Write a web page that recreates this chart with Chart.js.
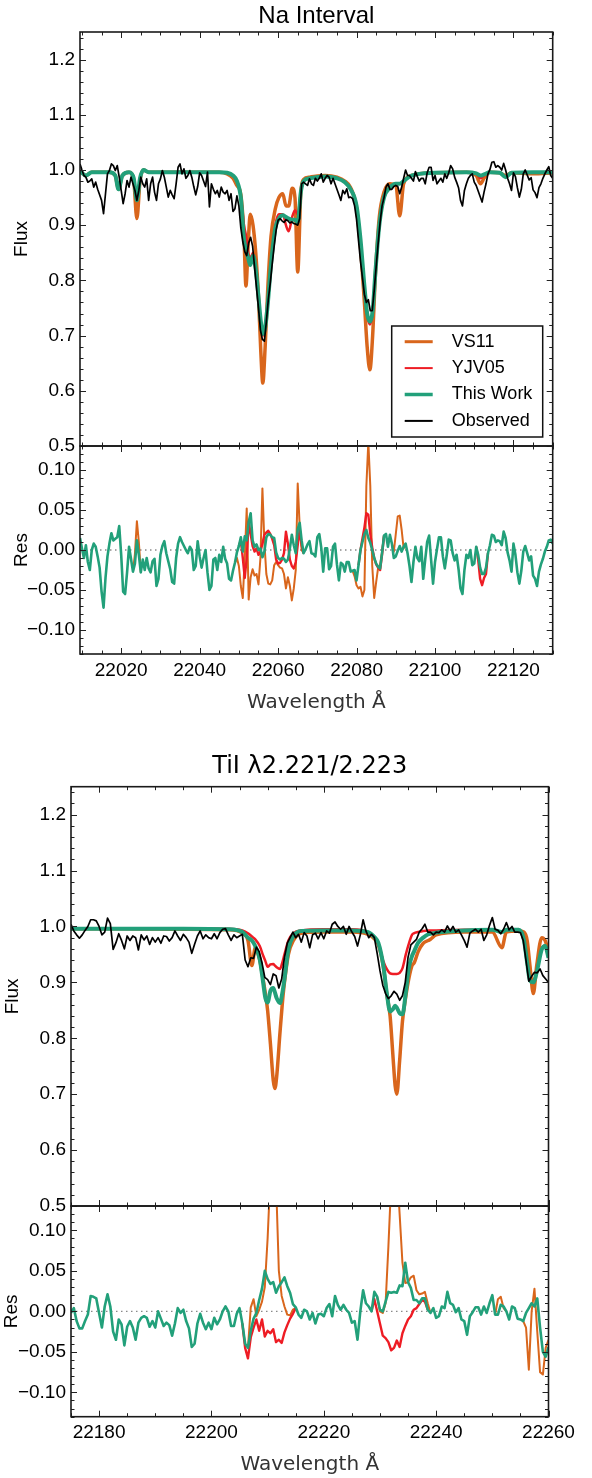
<!DOCTYPE html>
<html>
<head>
<meta charset="utf-8">
<title>Na interval and TiI lines</title>
<script src="https://cdn.jsdelivr.net/npm/chart.js@4.4.1/dist/chart.umd.min.js"></script>
<style>
  body { margin: 0; background: #fff; }
  #page { position: relative; width: 592px; height: 1478px; }
  canvas { position: absolute; left: 0; }
</style>
</head>
<body>
<div id="page">
  <canvas id="naFlux" width="592" height="460" style="top:0px"></canvas>
  <canvas id="naRes" width="592" height="290" style="top:440px"></canvas>
  <canvas id="tiFlux" width="592" height="480" style="top:740px"></canvas>
  <canvas id="tiRes" width="592" height="278" style="top:1200px"></canvas>
</div>
<script>
// spectra are sampled every 0.5 A
const sampleStep = 0.5;

// tick labels
const fluxTicks = [0.5, 0.6, 0.7, 0.8, 0.9, 1.0, 1.1, 1.2];
const resTicks = [-0.10, -0.05, 0.00, 0.05, 0.10];
const naWaveTicks = [22020, 22040, 22060, 22080, 22100, 22120];
const tiWaveTicks = [22180, 22200, 22220, 22240, 22260];
const legendOrder = ['VS11', 'YJV05', 'This Work', 'Observed'];

// ---- Na interval ----
const naObsStart = 22009.5;
const naObs = [
  1.011, 1.000, 0.990, 0.987, 0.978, 0.980, 0.984, 0.969, 0.978, 0.965,
  0.955, 0.945, 0.921, 0.957, 0.993, 0.999, 1.011, 1.008, 0.999, 1.008,
  0.987, 0.963, 0.939, 0.957, 0.981, 0.969, 0.987, 0.975, 0.963, 0.945,
  0.963, 0.987, 0.975, 0.969, 0.984, 0.945, 0.975, 0.987, 0.960, 0.945,
  0.975, 0.984, 0.999, 0.987, 0.969, 0.951, 0.963, 0.955, 0.948, 0.975,
  1.005, 1.011, 0.993, 1.002, 0.985, 0.990, 0.999, 0.987, 0.970, 0.955,
  0.970, 0.995, 0.990, 0.980, 0.970, 0.996, 0.933, 0.975, 0.965, 0.957,
  0.963, 0.951, 0.969, 0.960, 0.957, 0.963, 0.945, 0.957, 0.925, 0.930,
  0.953, 0.935, 0.895, 0.870, 0.852, 0.845, 0.868, 0.878, 0.862, 0.824,
  0.786, 0.750, 0.710, 0.693, 0.690, 0.725, 0.765, 0.795, 0.830, 0.862,
  0.891, 0.909, 0.912, 0.908, 0.905, 0.910, 0.908, 0.904, 0.906, 0.903,
  0.902, 0.900, 0.912, 0.975, 0.978, 0.975, 0.972, 0.984, 0.975, 0.972,
  0.985, 0.980, 0.985, 0.993, 0.978, 0.985, 0.990, 0.987, 0.975, 0.985,
  0.975, 0.965, 0.955, 0.945, 0.963, 0.957, 0.966, 0.950, 0.951, 0.948,
  0.935, 0.910, 0.872, 0.835, 0.805, 0.775, 0.760, 0.765, 0.745, 0.745,
  0.782, 0.825, 0.867, 0.905, 0.935, 0.950, 0.969, 0.975, 0.965, 0.965,
  0.970, 0.972, 0.970, 0.957, 0.969, 0.985, 1.000, 0.990, 0.990, 0.985,
  0.980, 0.997, 0.988, 0.980, 0.985, 0.985, 0.975, 0.995, 1.005, 1.005,
  0.981, 0.990, 0.975, 0.980, 0.985, 0.978, 0.993, 0.985, 0.995, 1.008,
  1.002, 0.987, 0.978, 0.968, 0.945, 0.935, 0.963, 0.975, 0.985, 0.990,
  0.993, 0.978, 0.972, 0.962, 0.952, 0.942, 0.960, 0.975, 0.993, 1.001,
  1.014, 1.015, 1.005, 1.008, 1.005, 1.000, 1.012, 1.000, 0.985, 0.975,
  0.963, 0.995, 0.988, 0.968, 0.951, 0.965, 0.993, 1.000, 0.991, 0.982,
  0.986, 0.964, 0.959, 0.950, 0.968, 0.975, 0.985, 0.993, 1.000, 1.006,
  0.990, 0.985
];
const naResTW = [
  0.015, 0.002, -0.010, 0.006, -0.015, -0.025, 0.000, 0.008, 0.004, -0.008,
  -0.022, -0.052, -0.072, -0.035, -0.008, 0.008, 0.021, 0.012, 0.014, 0.016,
  0.030, -0.006, -0.052, -0.055, -0.028, 0.004, -0.011, -0.027, -0.017, 0.012,
  -0.006, -0.028, -0.012, -0.025, -0.010, -0.023, -0.028, -0.014, -0.011, -0.045,
  -0.036, -0.006, 0.005, 0.011, -0.004, -0.014, -0.024, -0.040, -0.042, -0.010,
  0.008, 0.016, 0.010, 0.005, 0.000, -0.004, 0.004, 0.000, -0.025, -0.020,
  0.011, -0.008, -0.022, -0.010, 0.000, -0.028, -0.050, -0.045, -0.012, -0.010,
  -0.025, -0.006, -0.015, 0.004, -0.011, -0.017, -0.036, -0.038, -0.026, -0.016,
  -0.003, 0.005, 0.016, -0.002, 0.017, 0.012, 0.035, 0.046, 0.012, 0.004,
  0.007, 0.000, 0.002, -0.009, -0.002, 0.016, 0.020, 0.019, 0.016, 0.015,
  -0.003, -0.010, -0.012, -0.010, -0.011, -0.015, -0.012, 0.002, 0.019, 0.006,
  -0.004, 0.026, 0.034, 0.012, -0.004, 0.001, 0.007, 0.011, -0.004, -0.005,
  -0.008, 0.016, 0.020, 0.003, -0.027, 0.002, 0.002, -0.024, -0.020, 0.004,
  0.008, -0.018, -0.038, -0.016, -0.018, -0.027, -0.015, -0.015, -0.027, -0.026,
  -0.025, -0.038, -0.019, 0.000, 0.010, 0.020, 0.025, 0.015, 0.009, 0.000,
  -0.010, -0.017, -0.021, -0.023, -0.004, 0.018, 0.020, 0.004, 0.019, 0.008,
  -0.010, -0.008, -0.001, 0.005, -0.002, 0.004, 0.008, -0.004, -0.020, -0.040,
  -0.015, 0.004, -0.010, -0.014, 0.004, -0.036, -0.012, 0.010, 0.018, -0.012,
  -0.042, -0.015, 0.001, 0.016, 0.016, -0.008, -0.023, -0.006, 0.013, 0.012,
  -0.004, -0.013, -0.006, -0.024, -0.048, -0.055, -0.025, -0.006, -0.010, 0.000,
  -0.019, -0.017, 0.004, -0.006, -0.022, -0.030, -0.030, -0.022, -0.004, 0.006,
  0.019, 0.018, 0.010, 0.012, 0.011, 0.006, 0.023, 0.015, -0.003, -0.013,
  -0.027, 0.008, -0.006, -0.028, -0.042, -0.026, -0.002, 0.005, -0.004, -0.013,
  -0.008, -0.032, -0.036, -0.045, -0.027, -0.018, -0.011, -0.002, 0.004, 0.012,
  0.013, 0.008
];
// model spectra, read at these wavelengths
const naNodes = [
  22009.5, 22011, 22012.5, 22017, 22018.5, 22019.3, 22020.3, 22022, 22023.2, 22024,
  22024.8, 22025.7, 22027, 22035, 22045, 22047, 22048.5, 22049.5, 22050.5, 22051.3,
  22051.8, 22052.4, 22052.9, 22053.6, 22054.3, 22055, 22055.6, 22056.1, 22056.7, 22057.4,
  22058.2, 22059.3, 22060.2, 22061.2, 22062, 22062.7, 22063.6, 22064.3, 22065, 22065.8,
  22066.5, 22068, 22072, 22075, 22077, 22078.5, 22080, 22081, 22082, 22082.7,
  22083.4, 22084.1, 22084.8, 22085.8, 22087, 22088.5, 22090, 22091, 22092, 22094,
  22100, 22108, 22110.5, 22111.6, 22112.5, 22114, 22116.5, 22118, 22119.5, 22125,
  22130
];
const naVS11 = [
  0.998, 0.990, 0.996, 0.996, 0.990, 0.965, 0.990, 0.996, 0.980, 0.912,
  0.980, 1.000, 0.996, 0.996, 0.996, 0.993, 0.985, 0.972, 0.955, 0.880,
  0.790, 0.870, 0.920, 0.900, 0.850, 0.770, 0.670, 0.614, 0.680, 0.790,
  0.880, 0.930, 0.950, 0.957, 0.935, 0.935, 0.967, 0.950, 0.815, 0.960,
  0.983, 0.987, 0.990, 0.987, 0.980, 0.968, 0.930, 0.860, 0.760, 0.680,
  0.638, 0.700, 0.810, 0.915, 0.960, 0.975, 0.972, 0.917, 0.975, 0.990,
  0.995, 0.996, 0.990, 0.975, 0.985, 0.996, 0.995, 0.990, 0.995, 0.993,
  0.995
];
const naYJV05 = [
  0.998, 0.990, 0.996, 0.996, 0.990, 0.965, 0.990, 0.996, 0.985, 0.945,
  0.985, 1.000, 0.996, 0.996, 0.996, 0.995, 0.990, 0.980, 0.952, 0.900,
  0.882, 0.850, 0.840, 0.850, 0.820, 0.770, 0.722, 0.700, 0.712, 0.760,
  0.830, 0.900, 0.920, 0.920, 0.900, 0.889, 0.915, 0.927, 0.920, 0.960,
  0.980, 0.985, 0.988, 0.985, 0.978, 0.965, 0.935, 0.873, 0.787, 0.737,
  0.720, 0.742, 0.813, 0.900, 0.950, 0.968, 0.975, 0.975, 0.980, 0.990,
  0.995, 0.996, 0.994, 0.985, 0.990, 0.996, 0.995, 0.987, 0.995, 0.996,
  0.996
];
const naTW = [
  0.998, 0.990, 0.996, 0.996, 0.990, 0.965, 0.990, 0.996, 0.985, 0.945,
  0.985, 1.000, 0.996, 0.996, 0.996, 0.995, 0.990, 0.980, 0.950, 0.875,
  0.855, 0.840, 0.828, 0.845, 0.820, 0.770, 0.725, 0.703, 0.715, 0.760,
  0.830, 0.895, 0.912, 0.918, 0.915, 0.912, 0.910, 0.910, 0.905, 0.960,
  0.980, 0.985, 0.988, 0.985, 0.978, 0.965, 0.935, 0.875, 0.790, 0.740,
  0.725, 0.745, 0.815, 0.900, 0.950, 0.968, 0.975, 0.975, 0.980, 0.990,
  0.995, 0.996, 0.994, 0.990, 0.992, 0.996, 0.995, 0.987, 0.995, 0.996,
  0.996
];
// residuals of the other two fits, where they leave the This Work curve
const naResVS11Start = [22023.0, 22049.0, 22079.0, 22089.0];
const naResVS11 = [
  [-0.027, -0.005, 0.036, 0.010, -0.028],
  [-0.016, -0.010, -0.020, -0.045, -0.060, -0.010, 0.052, -0.062, -0.034, -0.024,
   -0.032, -0.030, -0.043, -0.010, 0.077, 0.010, -0.030, -0.042, -0.043, -0.038,
   -0.019, -0.015, -0.019, -0.022, -0.023, -0.030, -0.048, -0.034, -0.045, -0.063,
   -0.048, -0.025, 0.083, 0.030, 0.000, -0.004],
  [-0.026, -0.033, -0.044, -0.048, -0.046, -0.058, -0.050, 0.080, 0.135, 0.080,
   -0.020, -0.060, -0.040, -0.022, -0.019, -0.002, 0.018],
  [0.008, -0.002, 0.020, 0.042, 0.043, 0.025, 0.002, 0.008]
];
const naResYJV05Start = [22050.0, 22080.5, 22110.5];
const naResYJV05 = [
  [0.005, 0.012, -0.010, -0.035, -0.010, 0.035, 0.020, 0.005, -0.002, 0.002,
   -0.006, -0.002, 0.008, 0.019, 0.022, 0.024, 0.020, 0.014, 0.006, -0.012,
   -0.017, -0.016, -0.012, -0.004, 0.023, 0.008, -0.012, -0.020, -0.023, -0.015,
   0.006, 0.025, 0.006, -0.004],
  [-0.019, 0.000, 0.014, 0.028, 0.046, 0.044, 0.020, 0.003, -0.010, -0.018,
   -0.022, -0.025, -0.006, 0.018],
  [0.004, -0.012, -0.036, -0.044, -0.035, -0.030, -0.004]
];

// ---- TiI 2.221/2.223 ----
const tiObsStart = 22175;
const tiObs = [
  1.004, 0.992, 0.985, 0.979, 0.985, 0.993, 1.000, 1.012, 1.012, 1.010,
  1.000, 0.985, 0.990, 1.015, 1.005, 0.959, 0.971, 0.987, 0.975, 0.960,
  0.983, 0.975, 0.983, 0.980, 0.958, 0.985, 0.976, 0.983, 0.968, 0.980,
  0.972, 0.980, 0.970, 0.983, 0.982, 0.974, 0.980, 0.992, 0.983, 0.975,
  0.986, 0.980, 0.972, 0.952, 0.968, 0.983, 0.992, 0.978, 0.985, 0.980,
  0.978, 0.987, 0.978, 0.989, 0.995, 0.996, 0.985, 0.975, 0.985, 0.980,
  0.983, 0.986, 0.940, 0.928, 0.944, 0.943, 0.963, 0.955, 0.935, 0.909,
  0.905, 0.896, 0.915, 0.912, 0.890, 0.906, 0.945, 0.970, 0.980, 0.990,
  0.980, 0.986, 0.972, 0.989, 0.983, 0.962, 0.985, 0.988, 0.978, 0.989,
  0.978, 0.992, 0.988, 1.004, 1.008, 1.000, 0.995, 1.000, 0.986, 1.000,
  0.990, 0.982, 0.965, 0.985, 1.012, 0.992, 0.980, 0.986, 0.980, 0.952,
  0.921, 0.895, 0.880, 0.871, 0.876, 0.884, 0.879, 0.868, 0.876, 0.900,
  0.945, 0.967, 0.972, 0.977, 0.990, 0.996, 1.004, 0.990, 0.990, 0.985,
  0.990, 0.989, 0.994, 0.990, 1.001, 0.992, 1.000, 0.990, 0.994, 0.985,
  0.975, 0.963, 0.988, 0.992, 0.995, 0.990, 0.995, 0.975, 0.985, 1.002,
  1.016, 0.995, 0.993, 0.987, 0.995, 1.007, 0.994, 1.000, 0.990, 0.990,
  0.989, 0.975, 0.939, 0.902, 0.911, 0.918, 0.917, 0.924, 0.912, 0.906,
  0.900
];
const tiResTW = [
  -0.002, 0.004, -0.012, -0.021, -0.021, -0.012, -0.004, 0.019, 0.018, 0.016,
  -0.002, -0.020, 0.006, 0.021, 0.006, -0.025, -0.035, -0.010, -0.016, -0.042,
  -0.019, -0.012, -0.020, -0.035, -0.014, -0.008, -0.006, -0.008, -0.019, -0.012,
  -0.020, 0.000, -0.009, -0.018, -0.014, -0.017, -0.030, -0.015, 0.004, -0.002,
  0.002, -0.012, -0.021, -0.044, -0.040, -0.015, -0.003, -0.014, -0.022, -0.014,
  -0.022, -0.008, -0.016, -0.010, 0.000, 0.006, 0.000, -0.018, -0.018, -0.003,
  0.004, -0.015, -0.040, -0.045, -0.024, -0.009, -0.002, 0.014, 0.028, 0.050,
  0.040, 0.034, 0.036, 0.023, 0.031, 0.036, 0.042, 0.031, 0.023, 0.009,
  0.005, -0.004, -0.008, 0.002, 0.000, -0.010, -0.002, -0.015, -0.004, -0.003,
  -0.006, 0.004, 0.009, -0.006, 0.019, 0.008, 0.002, 0.008, 0.002, -0.002,
  -0.014, -0.012, -0.035, 0.000, 0.026, 0.010, 0.006, 0.000, 0.024, 0.018,
  0.002, 0.000, 0.012, 0.024, 0.023, 0.024, 0.023, 0.032, 0.031, 0.060,
  0.036, 0.029, 0.014, 0.014, 0.010, 0.016, 0.016, 0.002, -0.002, 0.004,
  -0.008, -0.006, 0.006, 0.004, 0.024, 0.010, 0.008, -0.001, 0.004, -0.010,
  -0.012, -0.029, -0.006, -0.001, 0.005, 0.005, -0.004, 0.006, -0.002, 0.010,
  0.020, -0.004, -0.004, 0.008, 0.006, 0.000, -0.010, 0.006, 0.004, -0.009,
  -0.010, -0.012, -0.002, 0.004, 0.010, 0.006, 0.016, -0.020, -0.050, -0.056,
  -0.044
];
const tiNodes = [
  22175, 22185, 22195, 22203, 22205.5, 22206.5, 22207.2, 22207.8, 22208.6, 22209.2,
  22209.6, 22210.0, 22210.5, 22211.0, 22211.3, 22211.6, 22212.2, 22212.6, 22213.0, 22213.7,
  22214.6, 22216, 22220, 22225, 22227.9, 22229.1, 22229.7, 22230.6, 22231.2, 22231.8,
  22232.3, 22232.7, 22233.0, 22233.5, 22234.0, 22234.6, 22235.1, 22235.7, 22236.1, 22236.8,
  22237.7, 22238.6, 22239.0, 22240, 22245, 22250, 22251.7, 22252.5, 22254.7, 22255.6,
  22256.2, 22256.7, 22257.3, 22257.9, 22258.8, 22259.4, 22260
];
const tiVS11 = [
  0.996, 0.996, 0.995, 0.994, 0.988, 0.975, 0.930, 0.962, 0.940, 0.905,
  0.880, 0.850, 0.790, 0.725, 0.710, 0.730, 0.810, 0.860, 0.900, 0.950,
  0.975, 0.988, 0.990, 0.990, 0.986, 0.977, 0.968, 0.928, 0.880, 0.840,
  0.770, 0.715, 0.700, 0.760, 0.830, 0.875, 0.905, 0.930, 0.935, 0.955,
  0.970, 0.975, 0.977, 0.985, 0.990, 0.990, 0.962, 0.990, 0.992, 0.990,
  0.975, 0.930, 0.880, 0.930, 0.980, 0.975, 0.955
];
const tiYJV05 = [
  0.996, 0.996, 0.996, 0.996, 0.993, 0.988, 0.982, 0.977, 0.965, 0.948,
  0.938, 0.928, 0.932, 0.933, 0.930, 0.927, 0.924, 0.935, 0.950, 0.975,
  0.988, 0.993, 0.995, 0.995, 0.990, 0.980, 0.968, 0.938, 0.924, 0.916,
  0.915, 0.915, 0.915, 0.917, 0.925, 0.950, 0.968, 0.985, 0.988, 0.990,
  0.992, 0.993, 0.993, 0.993, 0.994, 0.994, 0.990, 0.994, 0.994, 0.978,
  0.938, 0.906, 0.902, 0.920, 0.960, 0.966, 0.950
];
const tiTW = [
  0.996, 0.996, 0.996, 0.995, 0.990, 0.980, 0.975, 0.965, 0.941, 0.900,
  0.872, 0.864, 0.885, 0.890, 0.882, 0.872, 0.863, 0.880, 0.906, 0.959,
  0.983, 0.992, 0.993, 0.993, 0.990, 0.980, 0.971, 0.930, 0.882, 0.848,
  0.852, 0.858, 0.855, 0.845, 0.843, 0.882, 0.924, 0.947, 0.956, 0.971,
  0.980, 0.986, 0.987, 0.989, 0.993, 0.994, 0.990, 0.994, 0.994, 0.977,
  0.935, 0.903, 0.900, 0.918, 0.959, 0.965, 0.944
];
const tiResVS11Start = [22206.5, 22229.5, 22250.5, 22255.5];
const tiResVS11 = [
  [-0.045, 0.005, 0.015, -0.006, 0.002, 0.012, 0.030, 0.090, 0.170, 0.200,
   0.160, 0.050, 0.019, 0.006, -0.004, -0.005, 0.002, 0.004],
  [0.018, 0.000, -0.002, 0.010, 0.080, 0.160, 0.190, 0.180, 0.120, 0.060,
   0.035, 0.036, 0.042, 0.044, 0.026, 0.021, 0.022, 0.024, 0.010, -0.002],
  [-0.004, 0.015, 0.018, 0.004, 0.000],
  [-0.012, -0.020, -0.072, 0.000, 0.028, -0.025, -0.075, -0.078, -0.045, -0.035]
];
const tiResYJV05Start = [22205.5, 22228.5];
const tiResYJV05 = [
  [-0.015, -0.045, -0.058, -0.032, -0.020, -0.010, -0.024, -0.010, -0.031, -0.024,
   -0.027, -0.022, -0.038, -0.035, -0.039, -0.026, -0.017, -0.009, -0.003, 0.004],
  [0.000, 0.015, 0.000, -0.015, -0.030, -0.033, -0.038, -0.048, -0.045, -0.036,
   -0.044, -0.027, -0.018, -0.010, -0.006, 0.002, 0.004, 0.009, 0.014, 0.012,
   0.002]
];

const C = { vs11: '#d9661c', yjv05: '#ee1c24', tw: '#22a07a', obs: '#000000', zero: '#8a8a8a' };

Chart.defaults.font.family = "'Liberation Sans', Arial, sans-serif";
Chart.defaults.color = '#000';

const onGrid = (start, vals) => vals.map((v, i) => ({ x: start + i * sampleStep, y: v }));
const onNodes = (nodes, vals) => nodes.map((w, i) => ({ x: w, y: vals[i] }));
const inWindows = (starts, segs) => {
  const pts = [];
  segs.forEach((seg, k) => {
    if (k > 0) pts.push({ x: starts[k] - sampleStep / 2, y: null });
    seg.forEach((v, i) => pts.push({ x: starts[k] + i * sampleStep, y: v }));
  });
  return pts;
};

const fmtFlux = (v) => v.toFixed(1);
const fmtRes = (v) => (v < -1e-9 ? '\u2212' : '') + Math.abs(v).toFixed(2);
const fmtWave = (v) => String(v);

// frame with inward major/minor ticks on all four sides
const frameTicks = {
  id: 'frameTicks',
  afterDatasetsDraw(chart, args, o) {
    const { ctx, chartArea: a } = chart;
    const xs = chart.scales.x, ys = chart.scales.y;
    const isMajor = (list, v) => list.some((m) => Math.abs(m - v) < 1e-6);
    ctx.save();
    ctx.strokeStyle = '#222';
    ctx.lineWidth = 1;
    ctx.beginPath();
    for (let n = Math.ceil(xs.min / o.xMinor - 1e-6); n * o.xMinor <= xs.max + 1e-6; n++) {
      const v = n * o.xMinor;
      const px = Math.round(xs.getPixelForValue(v)) + 0.5;
      const len = isMajor(o.xMajor, v) ? 6 : 3.5;
      ctx.moveTo(px, a.bottom); ctx.lineTo(px, a.bottom - len);
      ctx.moveTo(px, a.top); ctx.lineTo(px, a.top + len);
    }
    for (let n = Math.ceil(ys.min / o.yMinor - 1e-6); n * o.yMinor <= ys.max + 1e-6; n++) {
      const v = n * o.yMinor;
      const py = Math.round(ys.getPixelForValue(v)) + 0.5;
      const len = isMajor(o.yMajor, v) ? 6 : 3.5;
      ctx.moveTo(a.left, py); ctx.lineTo(a.left + len, py);
      ctx.moveTo(a.right, py); ctx.lineTo(a.right - len, py);
    }
    ctx.stroke();
    ctx.lineWidth = 1.6;
    ctx.strokeStyle = '#1a1a1a';
    ctx.strokeRect(a.left, a.top, a.right - a.left, a.bottom - a.top);
    ctx.restore();
  }
};

// framed legend in the lower right corner of the plot
const boxLegend = {
  id: 'boxLegend',
  afterDraw(chart, args, o) {
    const { ctx, chartArea: a } = chart;
    const w = 151, h = 111;
    const x0 = a.right - 10 - w, y0 = a.bottom - 9 - h;
    ctx.save();
    ctx.fillStyle = '#fff';
    ctx.fillRect(x0, y0, w, h);
    ctx.strokeStyle = '#111';
    ctx.lineWidth = 1.5;
    ctx.strokeRect(x0, y0, w, h);
    ctx.font = "18px 'Liberation Sans', Arial, sans-serif";
    ctx.textBaseline = 'middle';
    o.order.forEach((label, i) => {
      const ds = chart.data.datasets.find((d) => d.label === label);
      const yy = y0 + 15.7 + i * 26.4;
      ctx.strokeStyle = ds.borderColor;
      ctx.lineWidth = o.widths[i];
      ctx.beginPath();
      ctx.moveTo(x0 + 13, yy);
      ctx.lineTo(x0 + 41, yy);
      ctx.stroke();
      ctx.fillStyle = '#000';
      ctx.fillText(label, x0 + 60, yy);
    });
    ctx.restore();
  }
};

const yAxis = (lim, ticks, fmt, title, titlePad, width) => ({
  min: lim[0], max: lim[1],
  afterBuildTicks: (s) => { s.ticks = ticks.map((v) => ({ value: v })); },
  afterFit: (s) => { s.width = width; s.paddingTop = 0; s.paddingBottom = 0; },
  grid: { display: false, drawTicks: false },
  border: { display: false },
  ticks: { padding: 5, autoSkip: false, font: { size: 19 }, color: '#000', callback: fmt },
  title: { display: true, text: title, color: '#000', font: { size: 19 }, padding: { top: titlePad, bottom: 0 } }
});

function fluxChart(id, p) {
  return new Chart(document.getElementById(id), {
    type: 'line',
    data: {
      datasets: [
        { label: 'VS11', data: onNodes(p.nodes, p.vs11), borderColor: C.vs11, borderWidth: 3.5, order: 4, cubicInterpolationMode: 'monotone' },
        { label: 'YJV05', data: onNodes(p.nodes, p.yjv05), borderColor: C.yjv05, borderWidth: 2.5, order: 3, cubicInterpolationMode: 'monotone' },
        { label: 'This Work', data: onNodes(p.nodes, p.tw), borderColor: C.tw, borderWidth: 4, order: 2, cubicInterpolationMode: 'monotone' },
        { label: 'Observed', data: onGrid(p.obsStart, p.obs), borderColor: C.obs, borderWidth: 1.7, order: 1 }
      ]
    },
    options: {
      responsive: false,
      animation: false,
      events: [],
      layout: { padding: { left: 0, right: p.rightPad, top: 0, bottom: p.bottomPad } },
      elements: { point: { radius: 0 }, line: { borderJoinStyle: 'round', fill: false } },
      datasets: { line: { clip: 0 } },
      scales: {
        x: { type: 'linear', display: false, min: p.xLim[0], max: p.xLim[1] },
        y: yAxis([0.5, 1.25], fluxTicks, fmtFlux, 'Flux', p.yTitlePad, p.leftW)
      },
      plugins: {
        legend: { display: false },
        tooltip: { enabled: false },
        title: { display: true, text: p.title, fullSize: false, color: '#000', font: p.titleFont, padding: p.titlePad },
        frameTicks: { xMajor: p.xTicks, xMinor: 5, yMajor: fluxTicks, yMinor: 0.02 },
        boxLegend: p.legend
      }
    },
    plugins: [frameTicks, boxLegend]
  });
}

function resChart(id, p) {
  return new Chart(document.getElementById(id), {
    type: 'line',
    data: {
      datasets: [
        { label: 'zero', data: [{ x: p.xLim[0], y: 0 }, { x: p.xLim[1], y: 0 }], borderColor: C.zero, borderWidth: 1.3, borderDash: [1.5, 3.5], order: 5 },
        { label: 'VS11', data: inWindows(p.vs11Start, p.vs11), borderColor: C.vs11, borderWidth: 2, order: 4 },
        { label: 'YJV05', data: inWindows(p.yjvStart, p.yjv), borderColor: C.yjv05, borderWidth: 2.4, order: 3 },
        { label: 'This Work', data: onGrid(p.obsStart, p.tw), borderColor: C.tw, borderWidth: 2.6, order: 2 }
      ]
    },
    options: {
      responsive: false,
      animation: false,
      events: [],
      layout: { padding: { left: 0, right: p.rightPad, top: p.topPad, bottom: 0 } },
      elements: { point: { radius: 0 }, line: { borderJoinStyle: 'round', fill: false } },
      datasets: { line: { clip: 0 } },
      scales: {
        x: {
          type: 'linear', min: p.xLim[0], max: p.xLim[1],
          afterBuildTicks: (s) => { s.ticks = p.xTicks.map((v) => ({ value: v })); },
          afterFit: (s) => { s.height = p.xH; s.paddingLeft = 0; s.paddingRight = 0; },
          grid: { display: false, drawTicks: false },
          border: { display: false },
          ticks: { padding: 5, autoSkip: false, maxRotation: 0, font: { size: 19 }, color: '#000', callback: fmtWave },
          title: { display: true, text: 'Wavelength Å', color: '#333', font: { family: "'DejaVu Sans'", size: 20 }, padding: { top: 0, bottom: p.xTitlePad } }
        },
        y: yAxis([-0.13, 0.13], resTicks, fmtRes, 'Res', p.yTitlePad, p.leftW)
      },
      plugins: {
        legend: { display: false },
        tooltip: { enabled: false },
        title: { display: false },
        frameTicks: { xMajor: p.xTicks, xMinor: 5, yMajor: resTicks, yMinor: 0.01 },
        boxLegend: false
      }
    },
    plugins: [frameTicks, boxLegend]
  });
}

fluxChart('naFlux', {
  title: 'Na Interval',
  titleFont: { family: "'Liberation Sans'", size: 24, weight: 'normal' },
  titlePad: { top: 2.3, bottom: 0.9 },
  xLim: [22009.5, 22130], xTicks: naWaveTicks,
  nodes: naNodes, vs11: naVS11, yjv05: naYJV05, tw: naTW,
  obsStart: naObsStart, obs: naObs,
  leftW: 80, rightPad: 39.3, bottomPad: 14, yTitlePad: 10.8,
  legend: { order: legendOrder, widths: [3, 2, 3.5, 2] }
});
resChart('naRes', {
  xLim: [22009.5, 22130], xTicks: naWaveTicks,
  vs11Start: naResVS11Start, vs11: naResVS11,
  yjvStart: naResYJV05Start, yjv: naResYJV05,
  obsStart: naObsStart, tw: naResTW,
  leftW: 80, rightPad: 39.3, topPad: 6, xH: 76, yTitlePad: 10.1, xTitlePad: 15
});
fluxChart('tiFlux', {
  title: 'TiI λ2.221/2.223',
  titleFont: { family: "'DejaVu Sans'", size: 24, weight: 'normal' },
  titlePad: { top: 12.6, bottom: 5.3 },
  xLim: [22175, 22260], xTicks: tiWaveTicks,
  nodes: tiNodes, vs11: tiVS11, yjv05: tiYJV05, tw: tiTW,
  obsStart: tiObsStart, obs: tiObs,
  leftW: 71, rightPad: 43.5, bottomPad: 14, yTitlePad: 1.8,
  legend: false
});
resChart('tiRes', {
  xLim: [22175, 22260], xTicks: tiWaveTicks,
  vs11Start: tiResVS11Start, vs11: tiResVS11,
  yjvStart: tiResYJV05Start, yjv: tiResYJV05,
  obsStart: tiObsStart, tw: tiResTW,
  leftW: 71, rightPad: 43.5, topPad: 6, xH: 61.3, yTitlePad: 0.3, xTitlePad: 1
});
</script>
</body>
</html>
